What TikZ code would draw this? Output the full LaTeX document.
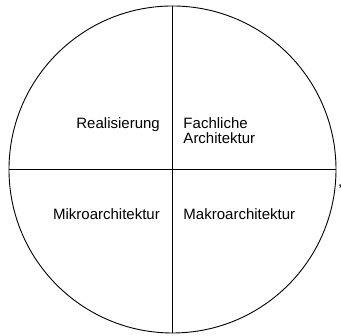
\documentclass[tikz,border=0pt]{standalone}
\usepackage{fontspec}
\setmainfont{Liberation Sans}
\usetikzlibrary{positioning}

\begin{document}
\begin{tikzpicture}[
  x=1pt, y=1pt,
  quadlabel/.style={inner sep=0pt, font=\fontsize{15}{15}\selectfont, align=left},
]
\useasboundingbox (-172.5,-166.5) rectangle (168.5,169.5);
\node[circle, draw, line width=0.9pt, minimum size=327pt, inner sep=0pt] (kreis) at (0,0) {};
\draw[line width=0.9pt] (kreis.north) -- (kreis.south);
\draw[line width=0.9pt] (kreis.west) -- (kreis.east);
\node[quadlabel, anchor=base east] (real) at (-12.5,41) {Realisierung};
\node[quadlabel, anchor=north west] (fach) at (10.8,52) {Fachliche\\Architektur};
\node[quadlabel, anchor=base east] (mikro) at (-12.5,-50.5) {Mikroarchitektur};
\node[quadlabel, anchor=base west] (makro) at (10.8,-50.5) {Makroarchitektur};
\node[quadlabel, anchor=base west] (komma) at (165.5,-17.5) {,};
\end{tikzpicture}
\end{document}
